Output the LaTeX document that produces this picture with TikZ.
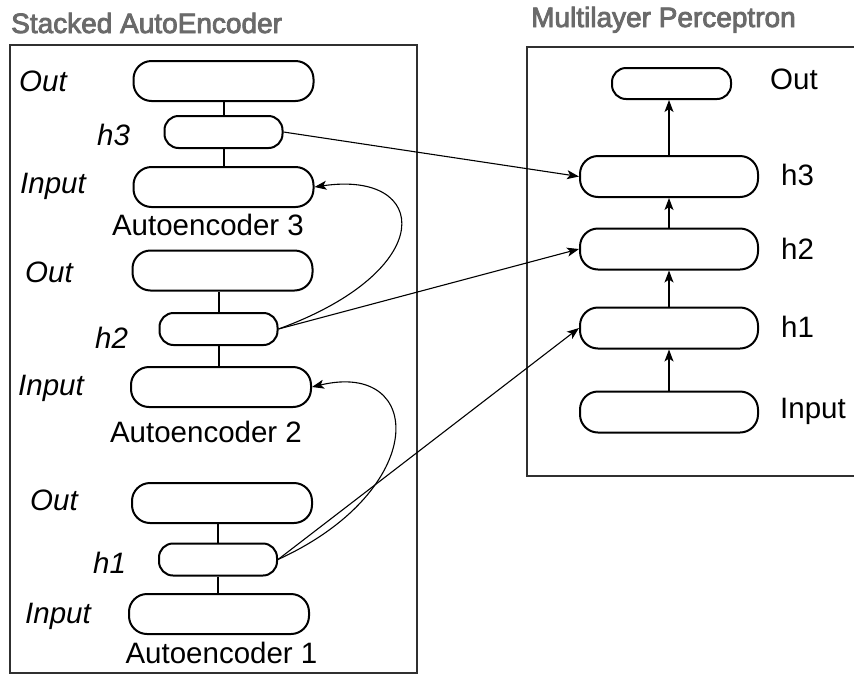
\documentclass[tikz,border=0pt]{standalone}
\usepackage{fontspec}
\setmainfont{Liberation Sans}
\newfontfamily\titlefont[FakeBold=3]{Liberation Sans}
\usetikzlibrary{arrows.meta}
\definecolor{titlegray}{HTML}{6A6A6A}
\definecolor{boxgray}{HTML}{303030}
\begin{document}
\begin{tikzpicture}[x=1pt,y=-1pt,
  big/.style={draw, line width=2pt, rounded corners=18pt, minimum width=180pt, minimum height=40pt, inner sep=0pt},
  small/.style={draw, line width=2pt, rounded corners=14pt, minimum width=118pt, minimum height=32pt, inner sep=0pt},
  mbig/.style={draw, line width=2pt, rounded corners=18pt, minimum width=178pt, minimum height=41pt, inner sep=0pt},
  msmall/.style={draw, line width=2pt, rounded corners=14pt, minimum width=119pt, minimum height=31pt, inner sep=0pt},
  lbl/.style={inner sep=0pt, font=\fontsize{29.5}{34}\selectfont},
  ilbl/.style={lbl, font=\fontsize{29.5}{34}\selectfont\itshape, anchor=base west},
  ttl/.style={inner sep=0pt, anchor=base west, text=titlegray, font=\fontsize{28}{32}\titlefont},
  frame/.style={draw=boxgray, line width=1.3pt},
  link/.style={line width=2pt},
  arr/.style={line width=1.1pt, -{Stealth[length=12pt, width=9pt, inset=3pt]}}
]
\useasboundingbox (0,0) rectangle (854,678);
% frames
\draw[frame] (10,45) rectangle (417,673);
\draw[frame] (527,47) rectangle (870,476);
% titles
\node[ttl] (t1) at (11,33) {Stacked AutoEncoder};
\node[ttl] (t2) at (531,27) {Multilayer Perceptron};
% AE3
\node[big] (o3) at (223.5,81) {};
\node[small] (s3) at (223.5,132) {};
\node[big] (i3) at (223.5,187) {};
\node[lbl, anchor=base] (a3) at (208,235) {Autoencoder 3};
% AE2
\node[big] (o2) at (222.5,270.5) {};
\node[small] (s2) at (218.5,329) {};
\node[big] (i2) at (221,387) {};
\node[lbl, anchor=base] (a2) at (206,442) {Autoencoder 2};
% AE1
\node[big] (o1) at (222,503) {};
\node[small] (s1) at (218,559.5) {};
\node[big] (i1) at (219,614) {};
\node[lbl, anchor=base] (a1) at (221.5,663) {Autoencoder 1};
% links
\draw[link] (s3.north) -- (s3.north |- o3.south);
\draw[link] (s3.south) -- (s3.south |- i3.north);
\draw[link] (s2.north) -- (s2.north |- o2.south);
\draw[link] (s2.south) -- (s2.south |- i2.north);
\draw[link] (s1.north) -- (s1.north |- o1.south);
\draw[link] (s1.south) -- (s1.south |- i1.north);
% left labels
\node[ilbl] (lo3) at (19,91) {Out};
\node[ilbl] (lh3) at (97,145) {h3};
\node[ilbl] (li3) at (20,193) {Input};
\node[ilbl] (lo2) at (25,282) {Out};
\node[ilbl] (lh2) at (95,348) {h2};
\node[ilbl] (li2) at (18,395) {Input};
\node[ilbl] (lo1) at (30,510) {Out};
\node[ilbl] (lh1) at (93,573) {h1};
\node[ilbl] (li1) at (25,623) {Input};
% MLP
\node[msmall] (mo) at (671.5,83.5) {};
\node[mbig] (m3) at (669,176.5) {};
\node[mbig] (m2) at (669,249) {};
\node[mbig] (m1) at (669,328) {};
\node[mbig] (mi) at (669,412) {};
\node[lbl, anchor=base west] (rmo) at (770,89) {Out};
\node[lbl, anchor=base west] (rm3) at (781,185) {h3};
\node[lbl, anchor=base west] (rm2) at (781,259) {h2};
\node[lbl, anchor=base west] (rm1) at (781,337) {h1};
\node[lbl, anchor=base west] (rmi) at (780,418) {Input};
\draw[arr] (mi.north) -- (m1.south);
\draw[arr] (m1.north) -- (m2.south);
\draw[arr] (m2.north) -- (m3.south);
\draw[arr] (m3.north) -- (m3.north |- mo.south);
% cross arrows
\draw[arr] (s3.east) -- (m3.west);
\draw[arr] (s2.east) -- (m2.west);
\draw[arr] (s1.east) -- (m1.west);
\draw[arr] (s2.east) .. controls (440,270) and (430,170) .. (i3.east);
\draw[arr] (s1.east) .. controls (430,490) and (425,360) .. (i2.east);
\end{tikzpicture}
\end{document}
